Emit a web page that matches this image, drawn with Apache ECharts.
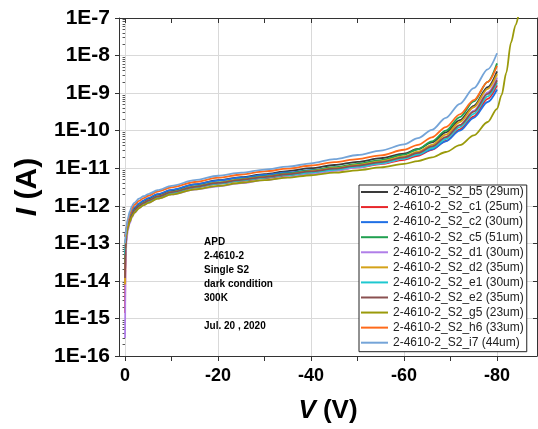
<!DOCTYPE html>
<html>
<head>
<meta charset="utf-8">
<title>APD 2-4610-2 dark I-V</title>
<script src="https://cdn.jsdelivr.net/npm/echarts@6/dist/echarts.min.js"></script>
<style>
  html, body { margin: 0; padding: 0; background: #fff; }
  #chart { width: 538px; height: 429px; }
</style>
</head>
<body>
<div id="chart"></div>
<script>
// bias sweep (V), shared by all devices
const voltage = [0, -0.1, -0.3, -0.6, -1, -1.5, -2, -3, -4, -5, -7, -10, -15, -20, -25, -30, -35, -40, -45, -50, -55, -60, -63, -66, -69, -72, -75, -78, -80]

// dark current (A) per device
const b5 = [1.2e-14, 8e-14, 1.9e-13, 3.2e-13, 4.8e-13, 6.8e-13, 8.5e-13, 1.12e-12, 1.35e-12, 1.55e-12, 2.0e-12, 2.6e-12, 3.7e-12, 4.8e-12, 5.8e-12, 7.0e-12, 8.4e-12, 1.0e-11, 1.22e-11, 1.48e-11, 1.85e-11, 2.45e-11, 3.25e-11, 4.9e-11, 9e-11, 1.9e-10, 4.6e-10, 1.45e-9, 3.8e-9]
const c1 = [1.4e-15, 4e-14, 1.4e-13, 2.6e-13, 4e-13, 5.7e-13, 7.2e-13, 9.5e-13, 1.14e-12, 1.3e-12, 1.68e-12, 2.18e-12, 3.05e-12, 3.85e-12, 4.6e-12, 5.45e-12, 6.4e-12, 7.5e-12, 8.8e-12, 1.05e-11, 1.28e-11, 1.68e-11, 2.15e-11, 3.1e-11, 5.3e-11, 1.08e-10, 2.4e-10, 7e-10, 1.6e-9]
const c2 = [1.5e-13, 1.9e-13, 2.5e-13, 3.6e-13, 5.2e-13, 7.2e-13, 9e-13, 1.15e-12, 1.38e-12, 1.6e-12, 2.05e-12, 2.65e-12, 3.7e-12, 4.7e-12, 5.6e-12, 6.6e-12, 7.7e-12, 8.9e-12, 1.03e-11, 1.2e-11, 1.45e-11, 1.85e-11, 2.3e-11, 3.2e-11, 5.2e-11, 1.0e-10, 2.2e-10, 5.8e-10, 1.25e-9]
const c5 = [3e-14, 9e-14, 1.8e-13, 3e-13, 4.4e-13, 6.2e-13, 7.8e-13, 1.02e-12, 1.22e-12, 1.4e-12, 1.8e-12, 2.35e-12, 3.3e-12, 4.2e-12, 5.1e-12, 6.1e-12, 7.3e-12, 8.8e-12, 1.06e-11, 1.3e-11, 1.65e-11, 2.3e-11, 3.2e-11, 5.2e-11, 1.0e-10, 2.3e-10, 6.0e-10, 2.0e-9, 6.2e-9]
const d1 = [3e-16, 2e-14, 1.1e-13, 2.2e-13, 3.4e-13, 5e-13, 6.4e-13, 8.6e-13, 1.04e-12, 1.2e-12, 1.55e-12, 2.0e-12, 2.7e-12, 3.3e-12, 4.0e-12, 4.8e-12, 5.8e-12, 7.0e-12, 8.5e-12, 1.05e-11, 1.32e-11, 1.8e-11, 2.4e-11, 3.6e-11, 6.6e-11, 1.4e-10, 3.4e-10, 1.05e-9, 2.6e-9]
const d2 = [8e-15, 6e-14, 1.6e-13, 2.8e-13, 4.2e-13, 6e-13, 7.5e-13, 1.0e-12, 1.2e-12, 1.38e-12, 1.78e-12, 2.3e-12, 3.2e-12, 4.1e-12, 4.95e-12, 5.9e-12, 7.0e-12, 8.4e-12, 1.0e-11, 1.22e-11, 1.52e-11, 2.05e-11, 2.75e-11, 4.2e-11, 7.8e-11, 1.7e-10, 4.2e-10, 1.3e-9, 3.2e-9]
const e1 = [5e-14, 1.1e-13, 1.9e-13, 3e-13, 4.3e-13, 6e-13, 7.5e-13, 9.8e-13, 1.17e-12, 1.34e-12, 1.72e-12, 2.22e-12, 3.1e-12, 3.9e-12, 4.7e-12, 5.55e-12, 6.55e-12, 7.7e-12, 9.1e-12, 1.1e-11, 1.35e-11, 1.8e-11, 2.35e-11, 3.45e-11, 6.0e-11, 1.25e-10, 2.8e-10, 8.2e-10, 1.9e-9]
const e2 = [1.2e-14, 7e-14, 1.7e-13, 2.9e-13, 4.3e-13, 6.1e-13, 7.7e-13, 1.0e-12, 1.2e-12, 1.38e-12, 1.77e-12, 2.3e-12, 3.2e-12, 4.05e-12, 4.9e-12, 5.8e-12, 6.9e-12, 8.2e-12, 9.7e-12, 1.17e-11, 1.45e-11, 1.95e-11, 2.55e-11, 3.8e-11, 6.7e-11, 1.4e-10, 3.2e-10, 9.5e-10, 2.2e-9]
const g5 = [1e-13, 1.3e-13, 1.8e-13, 2.6e-13, 3.7e-13, 5.2e-13, 6.5e-13, 8.6e-13, 1.04e-12, 1.2e-12, 1.55e-12, 2.0e-12, 2.75e-12, 3.4e-12, 4.1e-12, 4.8e-12, 5.6e-12, 6.5e-12, 7.6e-12, 8.8e-12, 1.05e-11, 1.3e-11, 1.55e-11, 1.95e-11, 2.7e-11, 4.1e-11, 7.5e-11, 1.7e-10, 3.8e-10]
const h6 = [1.5e-13, 1.8e-13, 2.6e-13, 4e-13, 6e-13, 8.5e-13, 1.05e-12, 1.35e-12, 1.6e-12, 1.85e-12, 2.4e-12, 3.1e-12, 4.3e-12, 5.6e-12, 6.8e-12, 8.2e-12, 9.8e-12, 1.18e-11, 1.45e-11, 1.75e-11, 2.2e-11, 3.1e-11, 4.2e-11, 6.6e-11, 1.25e-10, 2.7e-10, 6.5e-10, 2.0e-9, 5.3e-9]
const i7 = [1e-13, 1.6e-13, 2.8e-13, 4.5e-13, 7e-13, 1.0e-12, 1.2e-12, 1.55e-12, 1.8e-12, 2.05e-12, 2.6e-12, 3.4e-12, 4.8e-12, 6.3e-12, 7.6e-12, 9.2e-12, 1.1e-11, 1.35e-11, 1.75e-11, 2.25e-11, 2.95e-11, 4.3e-11, 6.3e-11, 1.05e-10, 2.2e-10, 5.2e-10, 1.35e-9, 4.3e-9, 1.15e-8]

// g5 was swept further, into breakdown
const g5TailVoltage = [-81, -82, -83, -84, -85, -86, -88]
const g5Tail = [9e-10, 3.5e-9, 2.2e-8, 6.5e-8, 1.6e-7, 3.5e-7, 1e-6]

const deviceNames = [
  '2-4610-2_S2_b5 (29um)', '2-4610-2_S2_c1 (25um)', '2-4610-2_S2_c2 (30um)',
  '2-4610-2_S2_c5 (51um)', '2-4610-2_S2_d1 (30um)', '2-4610-2_S2_d2 (35um)',
  '2-4610-2_S2_e1 (30um)', '2-4610-2_S2_e2 (35um)', '2-4610-2_S2_g5 (23um)',
  '2-4610-2_S2_h6 (33um)', '2-4610-2_S2_i7 (44um)'
]
const deviceCurrents = [b5, c1, c2, c5, d1, d2, e1, e2, g5, h6, i7]
const deviceColors = ['#3a3a3a', '#e8262b', '#1f6fe5', '#20a050', '#b07ee8', '#d4a219', '#1ec8d0', '#8a5050', '#9a9a0a', '#ff6a1a', '#74a4d8']

const majorV = [0, -20, -40, -60, -80]
const minorV = [-10, -30, -50, -70]
const allV = [0, -10, -20, -30, -40, -50, -60, -70, -80]

// log minor tick positions (2..9 x each decade)
const minorI = []
for (let e = -16; e < -7; e++) {
  for (let m = 2; m <= 9; m++) minorI.push(m * Math.pow(10, e))
}

const font = 'Liberation Sans, Arial, sans-serif'
const xMin = -88.6
const xMax = 1.3
const yMin = 1e-16
const yMax = 1e-7

const chart = echarts.init(document.getElementById('chart'))

function xAxisBase(extra) {
  return Object.assign({
    type: 'value',
    inverse: true,
    min: xMin,
    max: xMax,
    gridIndex: 0,
    axisLabel: { show: false },
    splitLine: { show: false },
    axisLine: { show: false }
  }, extra)
}

function yAxisBase(extra) {
  return Object.assign({
    type: 'log',
    min: yMin,
    max: yMax,
    interval: 1,
    axisLabel: { show: false },
    splitLine: { show: false },
    axisLine: { show: false }
  }, extra)
}

const series = deviceNames.map((name, i) => {
  let data = voltage.map((v, k) => [v, deviceCurrents[i][k]])
  if (name.indexOf('_g5') >= 0) {
    data = data.concat(g5TailVoltage.map((v, k) => [v, g5Tail[k]]))
  }
  return {
    name: name,
    type: 'line',
    data: data,
    symbol: 'none',
    smooth: 0.3,
    smoothMonotone: 'x',
    clip: true,
    color: deviceColors[i],
    lineStyle: { width: 1.8, color: deviceColors[i] }
  }
})

const option = {
  animation: false,
  backgroundColor: '#fff',
  grid: { left: 119, right: 1, top: 18, bottom: 73 },
  legend: {
    orient: 'vertical',
    left: 359,
    top: 185,
    itemWidth: 27,
    itemHeight: 14,
    itemGap: 1.07,
    padding: [0, 3, 2, 1],
    backgroundColor: '#fff',
    borderColor: '#222',
    borderWidth: 1,
    itemStyle: { opacity: 0 },
    lineStyle: { width: 2 },
    textStyle: { fontSize: 12, lineHeight: 14, color: '#222', fontFamily: font },
    data: deviceNames
  },
  xAxis: [
    xAxisBase({
      position: 'bottom',
      name: '{i|V} (V)',
      nameLocation: 'middle',
      nameGap: 42,
      nameTextStyle: {
        fontSize: 26, fontWeight: 'bold', color: '#000', fontFamily: font,
        rich: { i: { fontSize: 26, fontWeight: 'bold', fontStyle: 'italic', color: '#000', fontFamily: font } }
      },
      axisLine: { show: true, onZero: false, lineStyle: { color: '#333', width: 1 } },
      axisTick: { show: true, length: 5, customValues: majorV, lineStyle: { color: '#333' } },
      axisLabel: {
        show: true, customValues: majorV, margin: 11,
        fontSize: 18, fontWeight: 'bold', color: '#000', fontFamily: font
      },
      splitLine: { show: true, lineStyle: { color: '#d9d9d9', width: 1 } }
    }),
    xAxisBase({
      position: 'bottom',
      axisTick: { show: true, length: 5, customValues: minorV, lineStyle: { color: '#333' } }
    }),
    xAxisBase({
      position: 'top',
      axisLine: { show: true, onZero: false, lineStyle: { color: '#333', width: 1 } },
      axisTick: { show: true, inside: true, length: 5, customValues: allV, lineStyle: { color: '#333' } }
    })
  ],
  yAxis: [
    yAxisBase({
      position: 'left',
      name: '{i|I} (A)',
      nameLocation: 'middle',
      nameGap: 76,
      nameRotate: 90,
      nameTextStyle: {
        fontSize: 30, fontWeight: 'bold', color: '#000', fontFamily: font,
        rich: { i: { fontSize: 30, fontWeight: 'bold', fontStyle: 'italic', color: '#000', fontFamily: font } }
      },
      axisLine: { show: true, onZero: false, lineStyle: { color: '#333', width: 1 } },
      axisTick: { show: true, length: 4, lineStyle: { color: '#333' } },
      axisLabel: {
        show: true, margin: 9,
        fontSize: 21, fontWeight: 'bold', color: '#000', fontFamily: font,
        formatter: (value) => '1E' + Math.round(Math.log10(value))
      },
      splitLine: { show: true, lineStyle: { color: '#d9d9d9', width: 1 } }
    }),
    yAxisBase({
      position: 'left',
      axisTick: { show: true, length: 2.5, customValues: minorI, lineStyle: { color: '#555' } }
    }),
    yAxisBase({
      position: 'right',
      axisLine: { show: true, onZero: false, lineStyle: { color: '#333', width: 1 } },
      axisTick: { show: true, inside: true, length: 4, lineStyle: { color: '#333' } }
    })
  ],
  graphic: [
    {
      type: 'text',
      left: 204,
      top: 235,
      z: 10,
      style: {
        text: 'APD\n2-4610-2\nSingle S2\ndark condition\n300K\n\nJul. 20 , 2020',
        fontSize: 10,
        fontWeight: 'bold',
        fontFamily: font,
        lineHeight: 14,
        fill: '#000'
      }
    }
  ],
  series: series
}

chart.setOption(option)
</script>
</body>
</html>
